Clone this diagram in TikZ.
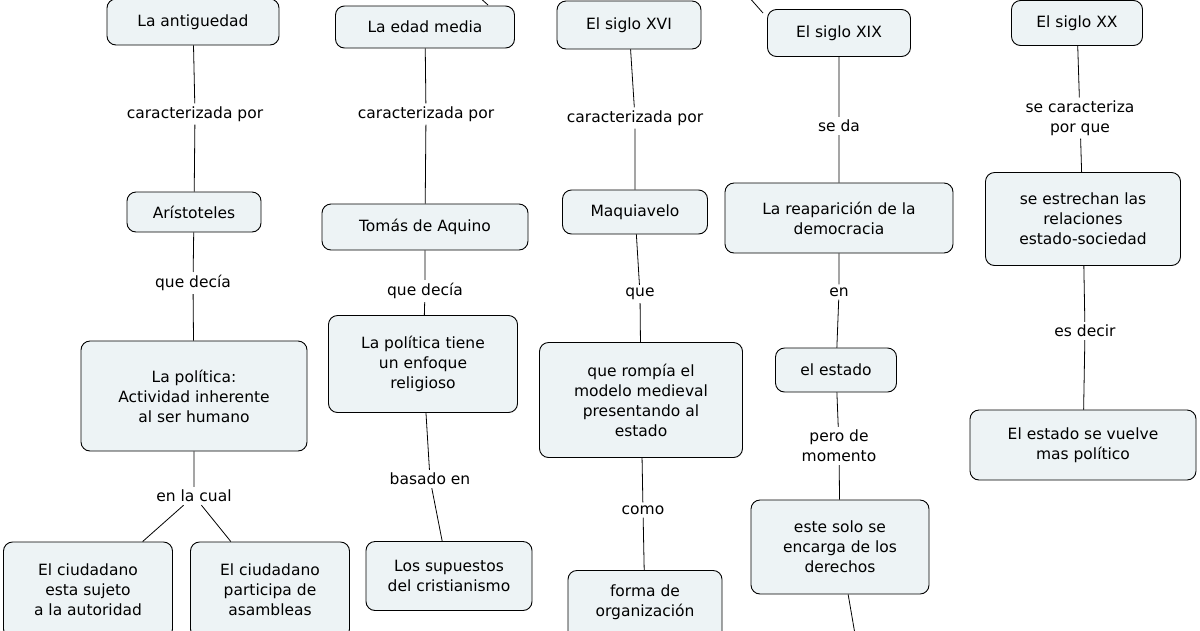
\documentclass[tikz,border=0pt]{standalone}
\usepackage{fontspec}
\setmainfont{DejaVu Sans}
\begin{document}
\begin{tikzpicture}[x=1pt,y=-1pt,
 box/.style={draw=black,line width=0.9pt,fill={rgb,255:red,237;green,243;blue,245},rounded corners=9pt,align=center,font=\fontsize{15.5}{20}\selectfont,inner sep=2pt},
 lab/.style={align=center,font=\fontsize{15.5}{20}\selectfont,inner sep=3pt,fill=white},
 ln/.style={draw=black,line width=0.8pt}]
\useasboundingbox (0,0) rectangle (1200,630);
% column 1
\node[box,minimum width=172,minimum height=46] (a1) at (193,22) {La antiguedad};
\node[lab] (l1) at (195,114) {caracterizada por};
\node[box,minimum width=134,minimum height=40] (a2) at (194,212) {Arístoteles};
\node[lab] (l2) at (193,283) {que decía};
\node[box,minimum width=226,minimum height=110] (a3) at (194,396) {La política:\\Actividad inherente\\al ser humano};
\node[lab] (l3) at (194,496) {en la cual};
\node[box,minimum width=169,minimum height=96] (a4) at (88,590) {El ciudadano\\esta sujeto\\a la autoridad};
\node[box,minimum width=159,minimum height=96] (a5) at (270,590) {El ciudadano\\participa de\\asambleas};
% column 2
\node[box,minimum width=179,minimum height=42] (b1) at (425,27) {La edad media};
\node[lab] (m1) at (426,114) {caracterizada por};
\node[box,minimum width=206,minimum height=46] (b2) at (425,227) {Tomás de Aquino};
\node[lab] (m2) at (425,291) {que decía};
\node[box,minimum width=189,minimum height=97] (b3) at (423,364) {La política tiene\\un enfoque\\religioso};
\node[lab] (m3) at (430,479) {basado en};
\node[box,minimum width=166,minimum height=69] (b4) at (449,576) {Los supuestos\\del cristianismo};
% column 3
\node[box,minimum width=144,minimum height=48] (c1) at (629,25) {El siglo XVI};
\node[lab] (n1) at (635,118) {caracterizada por};
\node[box,minimum width=145,minimum height=44] (c2) at (635,212) {Maquiavelo};
\node[lab] (n2) at (640,294) {que};
\node[box,minimum width=203,minimum height=115] (c3) at (641,400) {que rompía el\\modelo medieval\\presentando al\\estado};
\node[lab] (n3) at (643,510) {como};
\node[box,minimum width=154,minimum height=80,anchor=north] (c4) at (645,570) {forma de\\organización\\};
% column 4
\node[box,minimum width=143,minimum height=47] (d1) at (839,33) {El siglo XIX};
\node[lab] (o1) at (839,126) {se da};
\node[box,minimum width=228,minimum height=70] (d2) at (839,218) {La reaparición de la\\democracia};
\node[lab] (o2) at (839,292) {en};
\node[box,minimum width=121,minimum height=44] (d3) at (836,370) {el estado};
\node[lab] (o3) at (839,446) {pero de\\momento};
\node[box,minimum width=178,minimum height=94] (d4) at (840,547) {este solo se\\encarga de los\\derechos};
\coordinate (d5) at (856,640);
% column 5
\node[box,minimum width=131,minimum height=45] (e1) at (1077,23) {El siglo XX};
\node[lab] (p1) at (1080,118) {se caracteriza\\por que};
\node[box,minimum width=195,minimum height=93] (e2) at (1083,219) {se estrechan las\\relaciones\\estado-sociedad};
\node[lab] (p2) at (1085,331) {es decir};
\node[box,minimum width=226,minimum height=70] (e3) at (1083,445) {El estado se vuelve\\mas político};
% stubs
\coordinate (s1) at (478,-4); \coordinate (s1e) at (488,5);
\coordinate (s2) at (748,-4); \coordinate (s2e) at (763,13);
\begin{scope}[on background layer/.style={}]
\draw[ln] (a1)--(l1) (l1)--(a2) (a2)--(l2) (l2)--(a3) (a3)--(l3) (l3)--(a4) (l3)--(a5);
\draw[ln] (b1)--(m1) (m1)--(b2) (b2)--(m2) (m2)--(b3) (b3)--(m3) (m3)--(b4);
\draw[ln] (c1)--(n1) (n1)--(c2) (c2)--(n2) (n2)--(c3) (c3)--(n3) (n3)--(c4);
\draw[ln] (d1)--(o1) (o1)--(d2) (d2)--(o2) (o2)--(d3) (d3)--(o3) (o3)--(d4) (d4)--(d5);
\draw[ln] (e1)--(p1) (p1)--(e2) (e2)--(p2) (p2)--(e3);
\draw[ln] (s1)--(s1e) (s2)--(s2e);
\end{scope}
\end{tikzpicture}
\end{document}
